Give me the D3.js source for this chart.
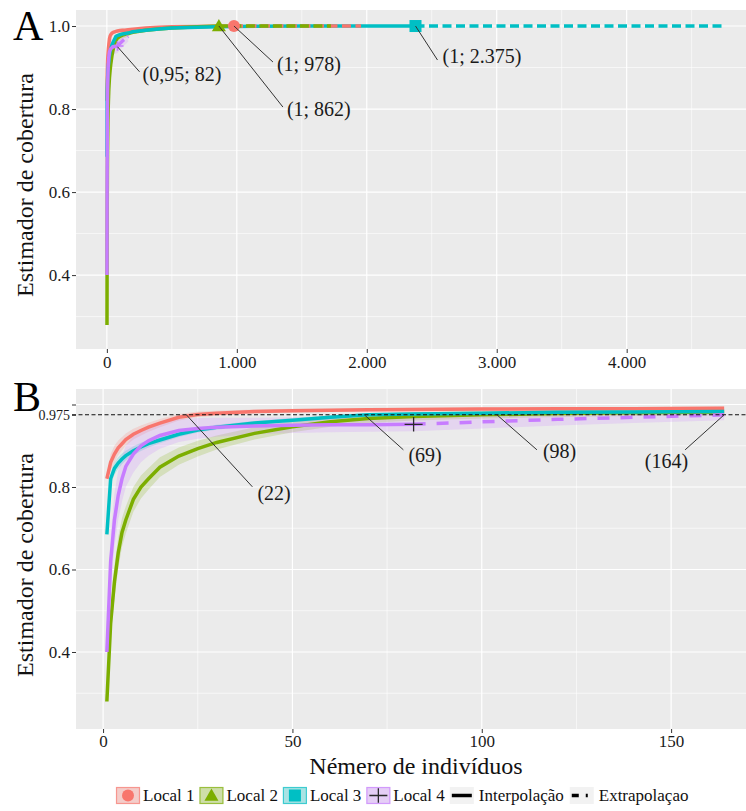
<!DOCTYPE html>
<html>
<head>
<meta charset="utf-8">
<script src="https://cdn.jsdelivr.net/npm/d3@7"></script>
<style>
body { margin: 0; background: #fff; }
svg text { font-family: "Liberation Serif", "Times New Roman", serif; }
</style>
</head>
<body>
<div id="chart"></div>
<script>
// sample sizes (number of individuals) where coverage was read
const mGrid = [1, 2, 3, 4, 5, 6, 8, 10, 12, 15, 20, 25, 30, 40, 50, 60, 70, 82, 100, 120, 140, 164,
  200, 300, 400, 500, 700, 862, 978, 1200, 1500, 1724, 1956, 2375, 3000, 4000, 4750];

// coverage estimates per local (null = beyond extrapolation end)
const coverLocal1 = [0.82, 0.86, 0.88, 0.895, 0.905, 0.915, 0.928, 0.937, 0.945, 0.955, 0.969, 0.976, 0.979, 0.983, 0.985, 0.986, 0.987, 0.988, 0.989, 0.990, 0.990, 0.991,
  0.992, 0.995, 0.997, 0.998, 0.999, 0.9995, 1.0, 1.0, 1.0, 1.0, 1.0, null, null, null, null];
const coverLocal2 = [0.28, 0.47, 0.57, 0.64, 0.69, 0.72, 0.77, 0.80, 0.82, 0.848, 0.875, 0.893, 0.908, 0.930, 0.946, 0.958, 0.966, 0.971, 0.975, 0.978, 0.980, 0.982,
  0.985, 0.990, 0.993, 0.995, 0.998, 1.0, 1.0, 1.0, 1.0, 1.0, null, null, null, null, null];
const coverLocal3 = [0.685, 0.82, 0.845, 0.858, 0.868, 0.876, 0.888, 0.897, 0.905, 0.914, 0.928, 0.938, 0.945, 0.955, 0.962, 0.969, 0.975, 0.977, 0.979, 0.981, 0.982, 0.983,
  0.986, 0.990, 0.993, 0.995, 0.997, 0.998, 0.999, 0.9995, 1.0, 1.0, 1.0, 1.0, 1.0, 1.0, 1.0];
const coverLocal4 = [0.40, 0.62, 0.72, 0.78, 0.82, 0.85, 0.88, 0.90, 0.912, 0.925, 0.937, 0.942, 0.945, 0.948, 0.950, 0.951, 0.951, 0.952, 0.958, 0.964, 0.969, 0.975,
  null, null, null, null, null, null, null, null, null, null, null, null, null, null, null];

// half width of the confidence band (only read for m <= 164)
const bandLocal1 = [0, .02, .02, .018, .016, .015, .013, .012, .011, .01, .008, .007, .006, .005, .005, .004, .004, .004, .004, .004, .004, .004];
const bandLocal2 = [0, .04, .04, .038, .035, .033, .03, .028, .026, .024, .021, .019, .017, .015, .013, .012, .011, .01, .009, .008, .008, .008];
const bandLocal3 = [0, .015, .015, .014, .013, .012, .011, .01, .009, .008, .007, .006, .006, .005, .005, .005, .004, .004, .004, .004, .004, .004];
const bandLocal4 = [0, .06, .065, .06, .055, .05, .045, .04, .036, .032, .028, .025, .023, .02, .019, .018, .017, .017, .016, .015, .014, .013];

const observedN = [978, 862, 2375, 82];
const localNames = ["Local 1", "Local 2", "Local 3", "Local 4"];
const localColors = ["#F8766D", "#7CAE00", "#00BFC4", "#C77CFF"];

const xTicksA = [0, 1000, 2000, 3000, 4000];
const xTickLabelsA = ["0", "1.000", "2.000", "3.000", "4.000"];
const xMinorA = [500, 1500, 2500, 3500, 4500];
const xTicksB = [0, 50, 100, 150];
const xMinorB = [25, 75, 125];
const yTicks = [0.4, 0.6, 0.8, 1.0];
const yMinor = [0.3, 0.5, 0.7, 0.9];
const refCover = 0.975;

const annotA = [
  {m: 82, c: 0.95, label: "(0,95; 82)"},
  {m: 978, c: 1.0, label: "(1; 978)"},
  {m: 862, c: 1.0, label: "(1; 862)"},
  {m: 2375, c: 1.0, label: "(1; 2.375)"}
];
const annotB = [
  {m: 22, c: 0.975, label: "(22)"},
  {m: 69, c: 0.975, label: "(69)"},
  {m: 104, c: 0.975, label: "(98)"},
  {m: 164, c: 0.975, label: "(164)"}
];
// label offsets in px from the anchor: line end (lx, ly), text (tx, ty)
const offA = [[22, 25, 25, 30], [39, 36, 43, 40], [64, 81, 68, 85], [22, 34, 27, 32]];
const offB = [[66, 72, 71, 81], [39, 35, 44, 43], [40, 35, 46, 39], [-39, 35, -36, 49, "end"]];

const covers = [coverLocal1, coverLocal2, coverLocal3, coverLocal4];
const bands = [bandLocal1, bandLocal2, bandLocal3, bandLocal4];
const serif = "'Liberation Serif', 'Times New Roman', serif";

const width = 746, height = 811;
const svg = d3.select("#chart").append("svg")
  .attr("width", width).attr("height", height)
  .style("display", "block");
svg.append("rect").attr("width", width).attr("height", height).attr("fill", "#fff");

function pointsFor(i, maxM) {
  const pts = mGrid.map((m, j) => ({m: m, c: covers[i][j], b: j < bands[i].length ? bands[i][j] : 0}))
    .filter(d => d.c != null && d.m <= maxM);
  return {
    interp: pts.filter(d => d.m <= observedN[i]),
    extrap: pts.filter(d => d.m >= observedN[i])
  };
}

function drawMarker(g, i, px, py, big) {
  const col = localColors[i];
  if (i == 0) {
    g.append("circle").attr("cx", px).attr("cy", py).attr("r", 6).attr("fill", col);
  } else if (i == 1) {
    const s = 7;
    g.append("path").attr("d", `M${px},${py - s}L${px + s},${py + s * 0.75}L${px - s},${py + s * 0.75}Z`).attr("fill", col);
  } else if (i == 2) {
    g.append("rect").attr("x", px - 6).attr("y", py - 6).attr("width", 12).attr("height", 12).attr("fill", col);
  } else {
    const s = big ? 9 : 6;
    const c = big ? "#2a2a2a" : col;
    g.append("path").attr("d", `M${px - s},${py}H${px + s}M${px},${py - s * 0.8}V${py + s * 0.8}`)
      .attr("stroke", c).attr("stroke-width", big ? 1.3 : 1.6);
  }
}

function drawPanel(p) {
  const x = d3.scaleLinear().domain(p.xDomain).range([p.left, p.right]);
  const y = d3.scaleLinear().domain(p.yDomain).range([p.bottom, p.top]);
  const g = svg.append("g");

  g.append("rect")
    .attr("x", p.left).attr("y", p.top)
    .attr("width", p.right - p.left).attr("height", p.bottom - p.top)
    .attr("fill", "#EBEBEB");

  // grid
  g.selectAll(".vminor").data(p.xMinor).join("line")
    .attr("x1", d => x(d)).attr("x2", d => x(d)).attr("y1", p.top).attr("y2", p.bottom)
    .attr("stroke", "#fff").attr("stroke-width", 0.6);
  g.selectAll(".hminor").data(yMinor).join("line")
    .attr("y1", d => y(d)).attr("y2", d => y(d)).attr("x1", p.left).attr("x2", p.right)
    .attr("stroke", "#fff").attr("stroke-width", 0.6);
  g.selectAll(".vmajor").data(p.xTicks).join("line")
    .attr("x1", d => x(d)).attr("x2", d => x(d)).attr("y1", p.top).attr("y2", p.bottom)
    .attr("stroke", "#fff").attr("stroke-width", 1.2);
  g.selectAll(".hmajor").data(yTicks).join("line")
    .attr("y1", d => y(d)).attr("y2", d => y(d)).attr("x1", p.left).attr("x2", p.right)
    .attr("stroke", "#fff").attr("stroke-width", 1.2);

  const area = d3.area().x(d => x(d.m)).y0(d => y(d.c - d.b)).y1(d => y(Math.min(d.c + d.b, 1.0)));
  const line = d3.line().x(d => x(d.m)).y(d => y(d.c));
  const series = localNames.map((n, i) => pointsFor(i, p.maxM));

  series.forEach((s, i) => {
    g.append("path").datum(s.interp.concat(s.extrap.slice(1)))
      .attr("d", area).attr("fill", localColors[i]).attr("opacity", 0.2);
  });
  series.forEach((s, i) => {
    g.append("path").datum(s.interp).attr("d", line)
      .attr("fill", "none").attr("stroke", localColors[i]).attr("stroke-width", 3.5);
  });
  series.forEach((s, i) => {
    if (s.extrap.length > 1) {
      g.append("path").datum(s.extrap).attr("d", line)
        .attr("fill", "none").attr("stroke", localColors[i]).attr("stroke-width", 3.5)
        .attr("stroke-dasharray", p.dash);
    }
  });
  // observed sample markers
  observedN.forEach((n, i) => {
    if (n <= p.maxM) {
      const j = mGrid.indexOf(n);
      drawMarker(g, i, x(n), y(covers[i][j]), p.bigMarker);
    }
  });

  if (p.refLine) {
    g.append("line")
      .attr("x1", 72).attr("x2", width).attr("y1", y(refCover)).attr("y2", y(refCover))
      .attr("stroke", "#111").attr("stroke-width", 1.1).attr("stroke-dasharray", "4,2.5");
  }

  // annotations
  p.annot.forEach((a, k) => {
    const o = p.off[k];
    const ax = x(a.m), ay = y(a.c);
    g.append("line").attr("x1", ax).attr("y1", ay).attr("x2", ax + o[0]).attr("y2", ay + o[1])
      .attr("stroke", "#333").attr("stroke-width", 1);
    g.append("text").attr("x", ax + o[2]).attr("y", ay + o[3])
      .attr("dominant-baseline", "middle").attr("text-anchor", o[4] || "start")
      .style("font-family", serif)
      .attr("font-size", 20).attr("fill", "#1a1a1a").text(a.label);
  });

  // axes
  const ax = g.append("g").attr("transform", `translate(0,${p.bottom})`)
    .call(d3.axisBottom(x).tickValues(p.xTicks).tickFormat((d, i) => p.xLabels[i]).tickSize(4).tickPadding(p.xPad));
  const ay = g.append("g").attr("transform", `translate(${p.left},0)`)
    .call(d3.axisLeft(y).tickValues(p.yTickVals).tickFormat(p.yFormat).tickSize(4).tickPadding(2));
  [ax, ay].forEach(a => {
    a.attr("font-family", null);
    a.select(".domain").remove();
    a.selectAll(".tick line").attr("stroke", "#333");
    a.selectAll("text").style("font-family", serif).attr("font-size", 17).attr("fill", "#1a1a1a");
  });
  ay.selectAll("text").filter(d => d == refCover).attr("font-size", 14);

  g.append("text")
    .attr("transform", `translate(33,${p.titleY}) rotate(-90)`)
    .attr("text-anchor", "middle").attr("font-size", 24).attr("fill", "#111")
    .style("font-family", serif)
    .text("Estimador de cobertura");

  g.append("text").attr("x", 13).attr("y", p.letterY)
    .style("font-family", serif)
    .attr("font-size", 42).attr("fill", "#000").text(p.letter);
}

drawPanel({
  left: 76, right: 755, top: 10, bottom: 349,
  xDomain: [-237.5, 4987.5], yDomain: [0.222, 1.0386], maxM: 4750,
  xTicks: xTicksA, xLabels: xTickLabelsA, xMinor: xMinorA, xPad: 3,
  yTickVals: yTicks, yFormat: d3.format(".1f"),
  dash: "9,4.5", bigMarker: false, refLine: false,
  annot: annotA, off: offA, titleY: 185, letter: "A", letterY: 40
});

drawPanel({
  left: 76, right: 755, top: 389, bottom: 729,
  xDomain: [-7.15, 172.15], yDomain: [0.2133, 1.0376], maxM: 164,
  xTicks: xTicksB, xLabels: xTicksB.map(String), xMinor: xMinorB, xPad: 2,
  yTickVals: [0.4, 0.6, 0.8, refCover, 1.0],
  yFormat: d => d == refCover ? "0.975" : (d == 1.0 ? "" : d3.format(".1f")(d)),
  dash: "12,11", bigMarker: true, refLine: true,
  annot: annotB, off: offB, titleY: 565, letter: "B", letterY: 411
});

// x title
svg.append("text").attr("x", 416).attr("y", 774).attr("text-anchor", "middle")
  .style("font-family", serif)
  .attr("font-size", 24).attr("fill", "#111").text("Némero de indivíduos");

// legend
const leg = svg.append("g");
const keyW = 24, keyH = 17, keyY = 787;
let lx = 116;
localNames.forEach((name, i) => {
  leg.append("rect").attr("x", lx).attr("y", keyY).attr("width", keyW).attr("height", keyH).attr("fill", "#F2F2F2");
  leg.append("rect").attr("x", lx + 0.5).attr("y", keyY + 0.5).attr("width", keyW - 1).attr("height", keyH - 1)
    .attr("fill", localColors[i]).attr("fill-opacity", 0.3)
    .attr("stroke", localColors[i]).attr("stroke-opacity", 0.7).attr("stroke-width", 1.2);
  drawMarker(leg, i, lx + keyW / 2, keyY + keyH / 2, true);
  const t = leg.append("text").attr("x", lx + keyW + 3).attr("y", keyY + 14)
    .style("font-family", serif)
    .attr("font-size", 17).attr("fill", "#111").text(name);
  lx += keyW + 3 + t.node().getComputedTextLength() + 5;
});
["Interpolação", "Extrapolaçao"].forEach((name, k) => {
  leg.append("rect").attr("x", lx).attr("y", keyY).attr("width", keyW).attr("height", keyH).attr("fill", "#F2F2F2");
  leg.append("line").attr("x1", lx + 2).attr("x2", lx + keyW - 2)
    .attr("y1", keyY + keyH / 2).attr("y2", keyY + keyH / 2)
    .attr("stroke", "#000").attr("stroke-width", 3.5)
    .attr("stroke-dasharray", k == 1 ? "7,7,2,10" : null);
  const t = leg.append("text").attr("x", lx + keyW + 5).attr("y", keyY + 14)
    .style("font-family", serif)
    .attr("font-size", 17).attr("fill", "#111").text(name);
  lx += keyW + 5 + t.node().getComputedTextLength() + 6;
});
</script>
</body>
</html>
